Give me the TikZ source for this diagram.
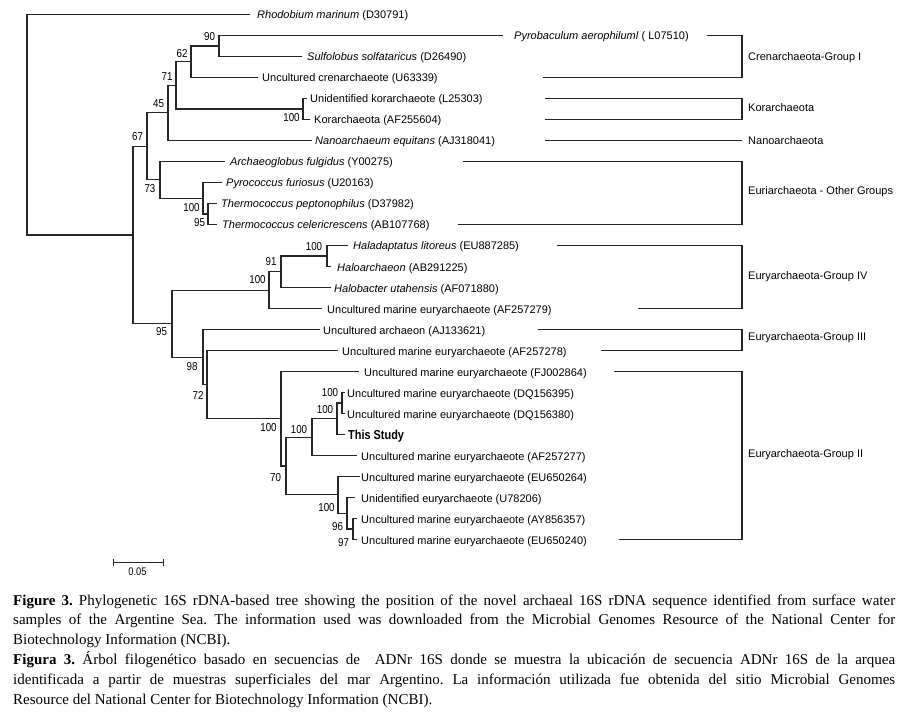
\documentclass[tikz,border=0pt]{standalone}
\usepackage{fontspec}
\setmainfont{Liberation Sans}
\newfontfamily\capserif{Liberation Serif}
\newfontfamily\narrowsans[FakeStretch=0.85]{Liberation Sans}
\newfontfamily\studyfont[FakeStretch=0.84]{Liberation Sans}
\frenchspacing
\begin{document}
\begin{tikzpicture}[x=1pt,y=-1pt,
  br/.style={line width=1.05pt, draw=black!85},
  leaf/.style={anchor=base west, inner sep=0pt, font=\fontsize{11}{13}\selectfont},
  grp/.style={anchor=base west, inner sep=0pt, font=\fontsize{11}{13}\selectfont},
  boot/.style={inner sep=0pt, font=\narrowsans\fontsize{11.5}{13}\selectfont},
  capline/.style={anchor=base west, inner sep=0pt, font=\capserif\frenchspacing\fontsize{15}{19.8}\selectfont}]
\useasboundingbox (0,0) rectangle (913,714);

% ---- leaves: branch ends and labels
\coordinate (e0) at (250,14.5);  \node[leaf] (t0) at (257,19) {\textit{Rhodobium marinum} (D30791)};
\coordinate (e1) at (503,35.5);  \node[leaf] (t1) at (514,40) {\textit{Pyrobaculum aerophiluml} ( L07510)};
\coordinate (e2) at (302,56.5);  \node[leaf] (t2) at (307,61) {\textit{Sulfolobus solfataricus} (D26490)};
\coordinate (e3) at (258,77.5);  \node[leaf] (t3) at (262,82) {Uncultured crenarchaeote (U63339)};
\coordinate (e4) at (307,98.5);  \node[leaf] (t4) at (310,103) {Unidentified korarchaeote (L25303)};
\coordinate (e5) at (310,119.5); \node[leaf] (t5) at (314,124) {Korarchaeota (AF255604)};
\coordinate (e6) at (312,140.5); \node[leaf] (t6) at (315,145) {\textit{Nanoarchaeum equitans} (AJ318041)};
\coordinate (e7) at (225,161.5); \node[leaf] (t7) at (230,166) {\textit{Archaeoglobus fulgidus} (Y00275)};
\coordinate (e8) at (222,182.5); \node[leaf] (t8) at (226,187) {\textit{Pyrococcus furiosus} (U20163)};
\coordinate (e9) at (217,203.5); \node[leaf] (t9) at (221,208) {\textit{Thermococcus peptonophilus} (D37982)};
\coordinate (e10) at (217,224.5); \node[leaf] (t10) at (222,229) {\textit{Thermococcus celericrescens} (AB107768)};
\coordinate (e11) at (348,245.5); \node[leaf] (t11) at (353,250) {\textit{Haladaptatus litoreus} (EU887285)};
\coordinate (e12) at (331,266.5); \node[leaf] (t12) at (337,271) {\textit{Haloarchaeon} (AB291225)};
\coordinate (e13) at (331,287.5); \node[leaf] (t13) at (334,292) {\textit{Halobacter utahensis} (AF071880)};
\coordinate (e14) at (322,308.5); \node[leaf] (t14) at (327,313) {Uncultured marine euryarchaeote (AF257279)};
\coordinate (e15) at (320,329.5); \node[leaf] (t15) at (323,334) {Uncultured archaeon (AJ133621)};
\coordinate (e16) at (338,350.5); \node[leaf] (t16) at (342,355) {Uncultured marine euryarchaeote (AF257278)};
\coordinate (e17) at (359,371.5); \node[leaf] (t17) at (364,376) {Uncultured marine euryarchaeote (FJ002864)};
\coordinate (e18) at (345,392.5); \node[leaf] (t18) at (347,397) {Uncultured marine euryarchaeote (DQ156395)};
\coordinate (e19) at (345,413.5); \node[leaf] (t19) at (347,418) {Uncultured marine euryarchaeote (DQ156380)};
\coordinate (e20) at (345,434.5); \node[leaf, font=\studyfont\bfseries\fontsize{13}{15}\selectfont] (t20) at (348,439.5) {This Study};
\coordinate (e21) at (357,455.5); \node[leaf] (t21) at (361,460) {Uncultured marine euryarchaeote (AF257277)};
\coordinate (e22) at (360,476.5); \node[leaf] (t22) at (361,481) {Uncultured marine euryarchaeote (EU650264)};
\coordinate (e23) at (355,497.5); \node[leaf] (t23) at (361,502) {Unidentified euryarchaeote (U78206)};
\coordinate (e24) at (357,518.5); \node[leaf] (t24) at (361,523) {Uncultured marine euryarchaeote (AY856357)};
\coordinate (e25) at (357,539.5); \node[leaf] (t25) at (361,544) {Uncultured marine euryarchaeote (EU650240)};

% ---- internal nodes
\coordinate (R) at (27,124.75);
\coordinate (A) at (133,235);
\coordinate (B) at (147,146.4);
\coordinate (D) at (168,112.94);
\coordinate (F) at (176,85.375);
\coordinate (G) at (191,61.75);
\coordinate (I) at (219,46);
\coordinate (H) at (303,109);
\coordinate (E) at (160,179.875);
\coordinate (J) at (203,198.25);
\coordinate (K) at (208,214);
\coordinate (C) at (172,323.6);
\coordinate (L) at (269,290.125);
\coordinate (N) at (281,271.75);
\coordinate (O) at (327,256);
\coordinate (M) at (203,357.06);
\coordinate (P) at (207,384.625);
\coordinate (Q) at (281,418.75);
\coordinate (S) at (286,466);
\coordinate (T) at (312,437.125);
\coordinate (V) at (337,418.75);
\coordinate (W) at (342,403);
\coordinate (U) at (338,494.875);
\coordinate (X) at (347,513.25);
\coordinate (Y) at (353,529);

% ---- branches
\foreach \p/\c in {R/e0,R/A, A/B,A/C, B/D,B/E, D/F,D/e6, F/G,F/H, G/I,G/e3, I/e1,I/e2,
  H/e4,H/e5, E/e7,E/J, J/e8,J/K, K/e9,K/e10, C/L,C/M, L/N,L/e14, N/O,N/e13, O/e11,O/e12,
  M/e15,M/P, P/e16,P/Q, Q/e17,Q/S, S/T,S/U, T/V,T/e21, V/W,V/e20, W/e18,W/e19,
  U/e22,U/X, X/e23,X/Y, Y/e24,Y/e25}
  \draw[br] (\p) |- (\c);

% ---- bootstrap values
\node[boot] (b90) at (209.5,36.5) {90};
\node[boot] (b62) at (182,53.5) {62};
\node[boot] (b71) at (167,77) {71};
\node[boot] (b45) at (158.5,104) {45};
\node[boot] (b67) at (137.5,137) {67};
\node[boot] (bH) at (291.5,117.5) {100};
\node[boot] (b73) at (150,188.5) {73};
\node[boot] (bJ) at (191.5,207.5) {100};
\node[boot] (bK) at (199.5,223) {95};
\node[boot] (bO) at (314,247) {100};
\node[boot] (b91) at (271,262) {91};
\node[boot] (bL) at (257.5,280) {100};
\node[boot] (bC) at (161.5,332) {95};
\node[boot] (b98) at (192,366.5) {98};
\node[boot] (b72) at (198,395) {72};
\node[boot] (bQ) at (268.5,428) {100};
\node[boot] (bT) at (299,429.5) {100};
\node[boot] (bW) at (330,393) {100};
\node[boot] (bV) at (325,410) {100};
\node[boot] (b70) at (275.5,477.5) {70};
\node[boot] (bU) at (326.5,507.5) {100};
\node[boot] (b96) at (337.5,527) {96};
\node[boot] (b97) at (343.5,543) {97};

% ---- group brackets
\coordinate (k1a) at (707,35.5);  \coordinate (k1b) at (742,35.5);  \coordinate (k1c) at (543,77.5);
\coordinate (k2a) at (545,98.5);  \coordinate (k2b) at (742,98.5);  \coordinate (k2c) at (545,119.5);
\coordinate (k3a) at (545,140.5); \coordinate (k3b) at (742,140.5);
\coordinate (k4a) at (463,161.5); \coordinate (k4b) at (742,161.5); \coordinate (k4c) at (458,224.5);
\coordinate (k5a) at (557,245.5); \coordinate (k5b) at (742,245.5); \coordinate (k5c) at (638,308.5);
\coordinate (k6a) at (538,329.5); \coordinate (k6b) at (742,329.5); \coordinate (k6c) at (601,350.5);
\coordinate (k7a) at (614,371.5); \coordinate (k7b) at (742,371.5); \coordinate (k7c) at (619,539.5);
\draw[br] (k1a) -- (k1b) |- (k1c);
\draw[br] (k2a) -- (k2b) |- (k2c);
\draw[br] (k3a) -- (k3b);
\draw[br] (k4a) -- (k4b) |- (k4c);
\draw[br] (k5a) -- (k5b) |- (k5c);
\draw[br] (k6a) -- (k6b) |- (k6c);
\draw[br] (k7a) -- (k7b) |- (k7c);
\node[grp] (g1) at (748,61) {Crenarchaeota-Group I};
\node[grp] (g2) at (748,112) {Korarchaeota};
\node[grp] (g3) at (748,144.5) {Nanoarchaeota};
\node[grp] (g4) at (748,195) {Euriarchaeota - Other Groups};
\node[grp] (g5) at (748,279) {Euryarchaeota-Group IV};
\node[grp] (g6) at (748,340) {Euryarchaeota-Group III};
\node[grp] (g7) at (748,457.5) {Euryarchaeota-Group II};

% ---- scale bar
\coordinate (s1) at (113,562); \coordinate (s2) at (163,562);
\draw[line width=0.9pt, black!85] (s1) -- (s2);
\draw[line width=0.9pt, black!85] ([yshift=3.5pt]s1) -- ([yshift=-3.5pt]s1);
\draw[line width=0.9pt, black!85] ([yshift=3.5pt]s2) -- ([yshift=-3.5pt]s2);
\node[boot, font=\narrowsans\fontsize{11}{13}\selectfont] (sb) at (137.5,572) {0.05};

% ---- caption
\node[capline] (c1) at (13,605) {\hbox to 882pt{\textbf{Figure 3.} Phylogenetic 16S rDNA-based tree showing the position of the novel archaeal 16S rDNA sequence identified from surface water}};
\node[capline] (c2) at (13,624.8) {\hbox to 882pt{samples of the Argentine Sea. The information used was downloaded from the Microbial Genomes Resource of the National Center for}};
\node[capline] (c3) at (13,644.6) {Biotechnology Information (NCBI).};
\node[capline] (c4) at (13,664.4) {\hbox to 882pt{\textbf{Figura 3.} Árbol filogenético basado en secuencias de\ \ ADNr 16S donde se muestra la ubicación de secuencia ADNr 16S de la arquea}};
\node[capline] (c5) at (13,684.2) {\hbox to 882pt{identificada a partir de muestras superficiales del mar Argentino. La información utilizada fue obtenida del sitio Microbial Genomes}};
\node[capline] (c6) at (13,704) {Resource del National Center for Biotechnology Information (NCBI).};
\end{tikzpicture}
\end{document}
